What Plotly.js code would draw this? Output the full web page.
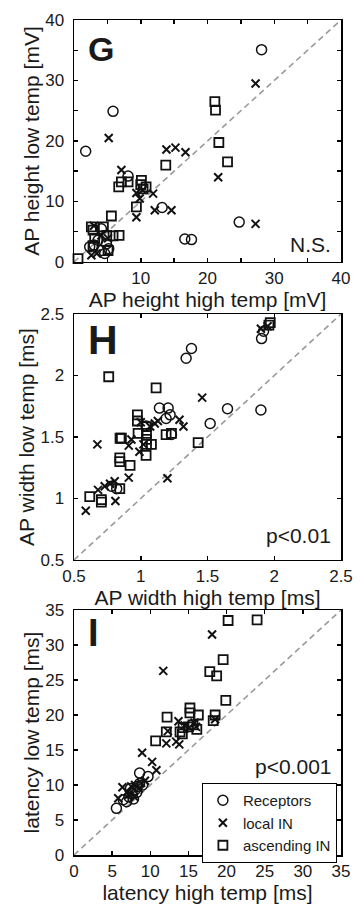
<!DOCTYPE html>
<html><head><meta charset="utf-8">
<script src="https://cdn.plot.ly/plotly-3.0.1.min.js"></script>
<style>html,body{margin:0;padding:0;background:#fff}#chart{width:362px;height:909px}</style>
</head><body><div id="chart"></div>
<script>
// ---- Panel G: AP height [mV] ----
const gDiag = [0, 40];
const gRecX = [28.1, 5.85, 1.75, 8.1, 13.2, 24.75, 16.6, 17.6, 2.35, 4.1, 4.6, 4.1, 3.6, 4.85, 3.0, 5.2];
const gRecY = [35.1, 24.9, 18.3, 14.2, 9.0, 6.6, 3.8, 3.7, 2.5, 5.5, 1.4, 1.9, 3.6, 3.0, 2.8, 2.2];
const gLocX = [27.2, 5.2, 13.85, 15.2, 16.7, 21.6, 27.2, 7.1, 9.35, 9.85, 11.85, 9.35, 12.1, 14.6, 2.6, 3.4, 4.1, 5.1, 10.3, 3.0];
const gLocY = [29.5, 20.5, 18.6, 18.9, 18.15, 14.0, 6.3, 15.2, 11.4, 10.5, 11.3, 7.4, 8.55, 8.55, 1.1, 1.4, 4.4, 3.9, 11.9, 6.0];
const gAscX = [21.1, 21.2, 21.7, 23.0, 13.75, 9.35, 5.6, 6.7, 7.1, 8.1, 10.1, 10.35, 10.8, 0.6, 2.6, 2.85, 3.1, 4.4, 4.9, 5.85, 6.75, 5.1, 2.85, 10.0];
const gAscY = [26.5, 25.1, 19.75, 16.55, 16.0, 9.1, 7.6, 12.4, 13.25, 13.25, 13.5, 12.1, 12.4, 0.56, 5.8, 5.25, 3.9, 5.8, 4.4, 4.3, 4.4, 1.9, 2.7, 12.8];
const gTicks = [0, 5, 10, 15, 20, 25, 30, 35, 40];
const gXText = ['', '', '10', '', '20', '', '30', '', '40'];
const gYText = ['0', '', '10', '', '20', '', '30', '', '40'];

// ---- Panel H: AP width [ms] ----
const hDiag = [0.5, 2.5];
const hRecX = [1.34, 1.38, 1.905, 1.92, 1.90, 1.65, 1.52, 1.14, 1.205, 1.22, 1.19, 1.23, 1.04, 0.78, 0.82];
const hRecY = [2.14, 2.22, 2.30, 2.36, 1.72, 1.73, 1.61, 1.735, 1.735, 1.68, 1.65, 1.52, 1.59, 1.10, 1.08];
const hLocX = [1.46, 0.675, 1.2, 0.91, 0.81, 0.588, 1.29, 1.32, 0.68, 0.73, 0.77, 0.805, 0.91, 0.93, 0.99, 1.02, 1.07, 1.105, 1.128, 1.9, 1.95, 1.0];
const hLocY = [1.82, 1.44, 1.165, 1.17, 0.98, 0.90, 1.64, 1.585, 1.07, 1.10, 1.12, 1.14, 1.43, 1.48, 1.38, 1.44, 1.585, 1.61, 1.63, 2.38, 2.40, 1.62];
const hAscX = [0.76, 1.115, 1.43, 1.97, 1.96, 0.975, 0.975, 0.98, 0.855, 0.845, 0.843, 0.843, 0.92, 0.618, 0.705, 0.705, 0.843, 1.043, 1.043, 1.043, 1.043, 1.04, 1.08, 1.19, 1.23];
const hAscY = [1.99, 1.90, 1.455, 2.43, 2.41, 1.68, 1.63, 1.53, 1.49, 1.49, 1.33, 1.30, 1.27, 1.015, 0.99, 0.97, 1.08, 1.585, 1.53, 1.48, 1.44, 1.35, 1.44, 1.52, 1.53];

// ---- Panel I: latency [ms] ----
const iDiag = [0, 35];
const iRecX = [5.56, 6.46, 6.9, 7.2, 7.6, 8.0, 8.3, 8.6, 9.0, 8.6, 9.7, 7.4, 8.2, 7.8];
const iRecY = [6.67, 7.9, 7.6, 8.3, 8.8, 9.3, 9.8, 10.2, 10.0, 11.7, 11.2, 9.5, 8.9, 8.0];
const iLocX = [18.1, 11.7, 8.93, 10.24, 10.8, 12.1, 13.4, 12.3, 13.7, 14.5, 15.1, 15.8, 18.5, 6.35, 5.8, 7.0, 7.5, 8.0, 8.5, 8.8, 9.3, 7.2, 7.9, 13.8, 16.0];
const iLocY = [31.5, 26.3, 14.6, 13.3, 12.1, 15.95, 16.2, 17.7, 19.1, 18.5, 18.2, 18.9, 19.4, 9.67, 8.1, 9.0, 9.8, 10.0, 9.5, 10.3, 10.6, 8.6, 8.3, 15.8, 18.3];
const iAscX = [20.2, 24.0, 19.55, 17.8, 18.7, 19.9, 18.5, 18.25, 16.3, 16.1, 15.2, 15.2, 12.2, 12.1, 10.7, 13.9, 14.3, 14.2, 15.0, 15.6];
const iAscY = [33.5, 33.6, 27.9, 26.2, 25.6, 22.1, 20.0, 19.2, 20.0, 17.95, 21.0, 20.3, 19.7, 17.6, 16.3, 17.6, 18.2, 17.3, 18.3, 18.6];

const groupNames = ['Receptors', 'local IN', 'ascending IN'];

const FONT = 'Liberation Sans, Arial, sans-serif';
const TXT = '#1a1a1a';
const recM = {symbol: 'circle-open', size: 10, color: '#111', line: {width: 1.5}};
const locM = {symbol: 'x-thin-open', size: 8, color: '#111', line: {width: 2}};
const ascM = {symbol: 'square-open', size: 9, color: '#111', line: {width: 1.8}};
const diagLine = {color: '#9a9a9a', width: 1.6, dash: '6px,4px'};

function panel(xa, ya, diag, rx, ry, lx, ly, ax, ay, legend) {
  return [
    {x: diag, y: diag, xaxis: xa, yaxis: ya, mode: 'lines', line: diagLine, showlegend: false, hoverinfo: 'skip'},
    {x: rx, y: ry, xaxis: xa, yaxis: ya, mode: 'markers', marker: recM, name: groupNames[0], showlegend: legend, cliponaxis: false},
    {x: lx, y: ly, xaxis: xa, yaxis: ya, mode: 'markers', marker: locM, name: groupNames[1], showlegend: legend, cliponaxis: false},
    {x: ax, y: ay, xaxis: xa, yaxis: ya, mode: 'markers', marker: ascM, name: groupNames[2], showlegend: legend, cliponaxis: false}
  ];
}

const data = [].concat(
  panel('x', 'y', gDiag, gRecX, gRecY, gLocX, gLocY, gAscX, gAscY, false),
  panel('x2', 'y2', hDiag, hRecX, hRecY, hLocX, hLocY, hAscX, hAscY, false),
  panel('x3', 'y3', iDiag, iRecX, iRecY, iLocX, iLocY, iAscX, iAscY, true)
);

function axis(extra) {
  return Object.assign({
    showline: true, linecolor: '#000', linewidth: 1.5, mirror: 'allticks',
    ticks: 'inside', ticklen: 4, tickwidth: 1.5, tickcolor: '#000',
    showgrid: false, zeroline: false, fixedrange: true,
    tickfont: {family: FONT, size: 17, color: TXT},
  }, extra);
}
function ttl(text, standoff) {
  return {text: text, font: {family: FONT, size: 21, color: TXT}, standoff: standoff};
}
const yLab = 5;

const layout = {
  width: 362, height: 909,
  margin: {l: 74, r: 21, t: 20, b: 54},
  paper_bgcolor: '#fff', plot_bgcolor: '#fff',
  font: {family: FONT, color: TXT},
  xaxis: axis({domain: [0, 1], range: [0, 40], tickmode: 'array', tickvals: gTicks, ticktext: gXText, anchor: 'y', title: ttl('AP height high temp [mV]', 0)}),
  yaxis: axis({domain: [0.7102, 1], range: [0, 40], tickmode: 'array', tickvals: gTicks, ticktext: gYText, anchor: 'x', ticklabelstandoff: yLab, title: ttl('AP height low temp [mV]', 0)}),
  xaxis2: axis({domain: [0, 1], range: [0.5, 2.5], dtick: 0.5, tick0: 0.5, anchor: 'y2', title: ttl('AP width high temp [ms]', 1)}),
  yaxis2: axis({domain: [0.3533, 0.6479], range: [0.5, 2.5], dtick: 0.5, tick0: 0.5, anchor: 'x2', ticklabelstandoff: yLab, title: ttl('AP width low temp [ms]', 0)}),
  xaxis3: axis({domain: [0, 1], range: [0, 35], dtick: 5, tick0: 0, anchor: 'y3', title: ttl('latency high temp [ms]', 1)}),
  yaxis3: axis({domain: [0, 0.2934], range: [0, 35], dtick: 5, tick0: 0, anchor: 'x3', ticklabelstandoff: yLab, title: ttl('latency low temp [ms]', 0)}),
  showlegend: true,
  legend: {
    x: 0.479, y: 0.0862, xanchor: 'left', yanchor: 'top',
    bgcolor: '#fff', bordercolor: '#000', borderwidth: 1,
    font: {family: FONT, size: 15, color: TXT}, tracegroupgap: 0
  },
  annotations: [
    {text: '<b>G</b>', xref: 'x domain', yref: 'y domain', x: 0.045, y: 0.88, xanchor: 'left', yanchor: 'middle', showarrow: false, font: {family: FONT, size: 34, color: TXT}},
    {text: '<b>H</b>', xref: 'x2 domain', yref: 'y2 domain', x: 0.045, y: 0.894, xanchor: 'left', yanchor: 'middle', showarrow: false, font: {family: FONT, size: 41, color: TXT}},
    {text: '<b>I</b>', xref: 'x3 domain', yref: 'y3 domain', x: 0.045, y: 0.908, xanchor: 'left', yanchor: 'middle', showarrow: false, font: {family: FONT, size: 38, color: TXT}},
    {text: 'N.S.', xref: 'x domain', yref: 'y domain', x: 0.97, y: 0.074, xanchor: 'right', yanchor: 'middle', showarrow: false, font: {family: FONT, size: 21, color: TXT}},
    {text: 'p&lt;0.01', xref: 'x2 domain', yref: 'y2 domain', x: 0.97, y: 0.1, xanchor: 'right', yanchor: 'middle', showarrow: false, font: {family: FONT, size: 21, color: TXT}},
    {text: 'p&lt;0.001', xref: 'x3 domain', yref: 'y3 domain', x: 0.975, y: 0.36, xanchor: 'right', yanchor: 'middle', showarrow: false, font: {family: FONT, size: 21, color: TXT}}
  ]
};

Plotly.newPlot('chart', data, layout, {staticPlot: true, displayModeBar: false});
</script>
</body></html>
